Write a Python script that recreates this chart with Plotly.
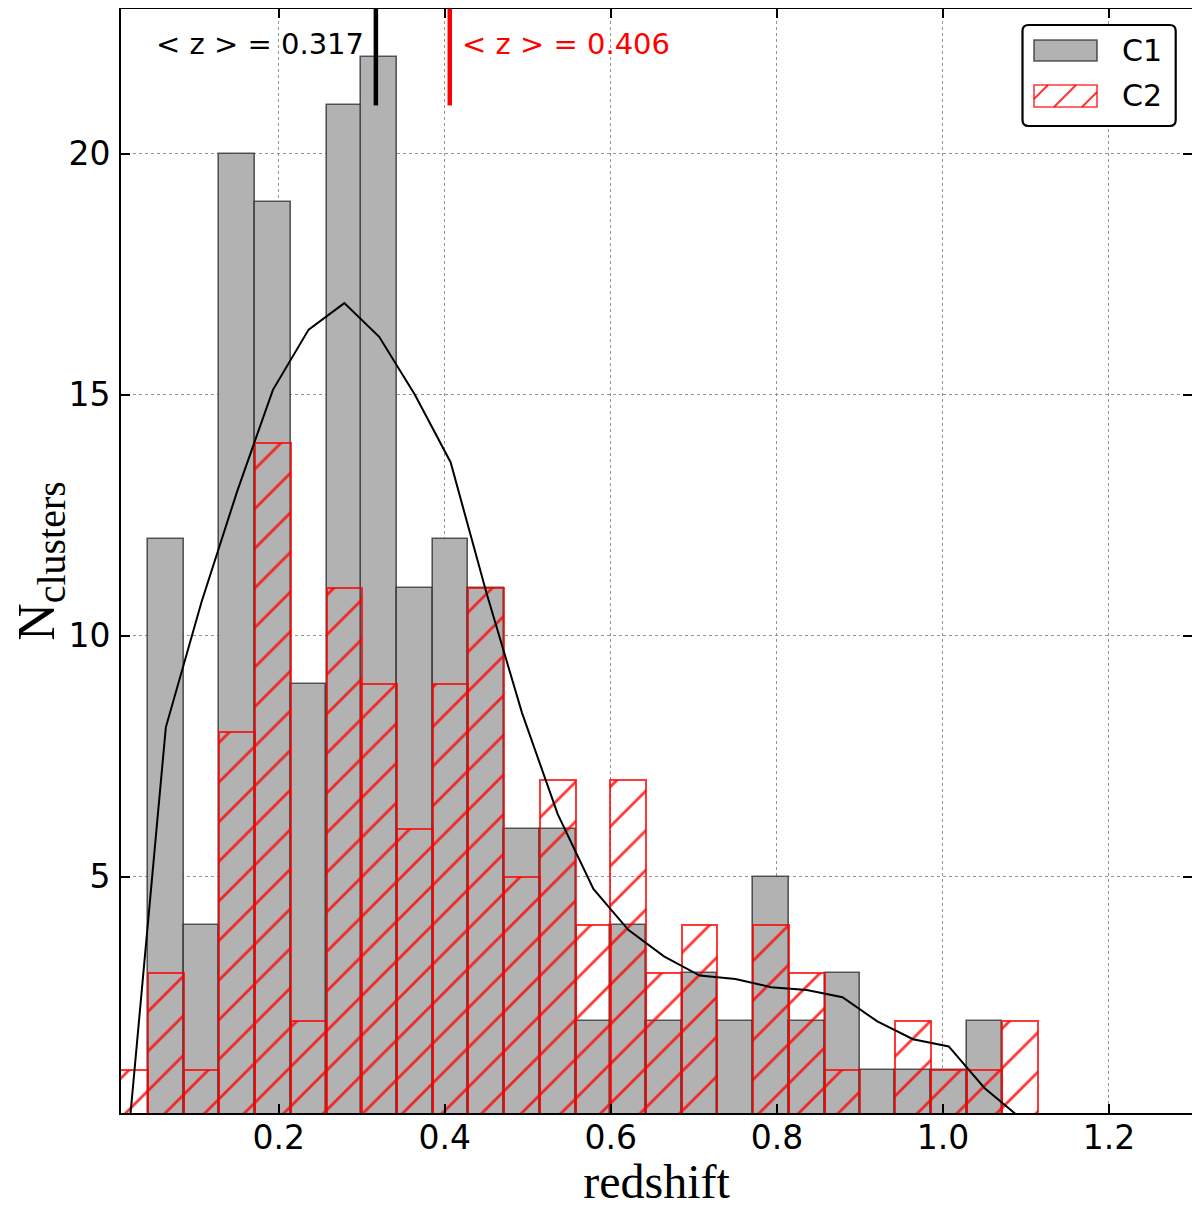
import plotly.graph_objects as go

# ---------------- data ----------------
z_centers = [0.021, 0.064, 0.107, 0.150, 0.193, 0.236, 0.279, 0.321, 0.364, 0.407,
             0.450, 0.493, 0.536, 0.579, 0.621, 0.664, 0.707, 0.750, 0.793, 0.836,
             0.879, 0.921, 0.964, 1.007, 1.050, 1.093]
bin_width = 0.0429
n_c1 = [0, 12, 4, 20, 19, 9, 21, 22, 11, 12, 11, 6, 6, 2, 4, 2, 3, 2, 5, 2, 3, 1, 1, 1, 2, 0]
n_c2 = [1, 3, 1, 8, 14, 2, 11, 9, 6, 9, 11, 5, 7, 4, 7, 3, 4, 0, 4, 3, 1, 0, 2, 1, 1, 2]
kde_c1 = [0.0, 8.1, 10.7, 13.0, 15.1, 16.35, 16.9, 16.2, 15.0, 13.6, 10.9, 8.4, 6.3,
          4.75, 3.9, 3.35, 2.95, 2.88, 2.71, 2.65, 2.5, 2.0, 1.63, 1.48, 0.62, 0.0]
series_names = ["C1", "C2"]
mean_z = [0.317, 0.406]
x_ticks = [0.2, 0.4, 0.6, 0.8, 1.0, 1.2]
y_ticks = [5, 10, 15, 20]

# ---------------- styling ----------------
GREY_FILL = "#b2b2b2"
GREY_EDGE = "rgba(40,40,40,0.75)"
RED = "rgba(255,0,0,0.78)"
OFF = 8  # page body margin
W, H = 1192, 1200
ML, MR, MT, MB = 113, 8, 1, 95
PW, PH = W - ML - MR, H - MT - MB


def px2paper(sx, sy):
    """screen px -> paper coords"""
    fx, fy = sx - OFF, sy - OFF
    return (fx - ML) / PW, (H - MB - fy) / PH


fig = go.Figure()

fig.add_trace(go.Bar(
    x=z_centers, y=n_c1, width=bin_width, name=series_names[0],
    marker=dict(color=GREY_FILL, line=dict(color=GREY_EDGE, width=1.6)),
    showlegend=False,
))
fig.add_trace(go.Bar(
    x=z_centers, y=n_c2, width=bin_width, name=series_names[1],
    marker=dict(color="rgba(0,0,0,0)", line=dict(color=RED, width=2),
                pattern=dict(shape="/", fgcolor=RED, bgcolor="rgba(0,0,0,0)",
                             size=28, solidity=0.1, fillmode="replace")),
    showlegend=False,
))
fig.add_trace(go.Scatter(
    x=z_centers, y=kde_c1, mode="lines", line=dict(color="black", width=2),
    showlegend=False, name="KDE C1",
))

# mean lines and labels
mean_colors = ["black", "red"]
for i, (m, c) in enumerate(zip(mean_z, mean_colors)):
    fig.add_shape(type="line", xref="x", yref="y", x0=m, x1=m, y0=21, y1=23,
                  line=dict(color=c, width=4.5))
    fig.add_annotation(x=m, y=22.28, xref="x", yref="y",
                       text=f"&lt; z &gt; = {m:.3f}", showarrow=False,
                       xanchor="right" if i == 0 else "left",
                       xshift=-10 if i == 0 else 10,
                       font=dict(family="DejaVu Sans", size=29, color=c))

# manual legend (rounded frame, swatches, labels)
fx0, fy0 = px2paper(1022.5, 126)
fx1, fy1 = px2paper(1175.7, 25)
rx, ry = 6 / PW, 6 / PH
path = (f"M {fx0+rx},{fy1} L {fx1-rx},{fy1} Q {fx1},{fy1} {fx1},{fy1-ry} "
        f"L {fx1},{fy0+ry} Q {fx1},{fy0} {fx1-rx},{fy0} L {fx0+rx},{fy0} "
        f"Q {fx0},{fy0} {fx0},{fy0+ry} L {fx0},{fy1-ry} Q {fx0},{fy1} {fx0+rx},{fy1} Z")
fig.add_shape(type="path", xref="paper", yref="paper", path=path,
              fillcolor="white", line=dict(color="black", width=2.2))
# C1 swatch
a = px2paper(1034, 61); b = px2paper(1097, 40)
fig.add_shape(type="rect", xref="paper", yref="paper", x0=a[0], y0=a[1], x1=b[0], y1=b[1],
              fillcolor=GREY_FILL, line=dict(color=GREY_EDGE, width=1.6))
# C2 swatch (hatched)
sx0, sx1, sy_top, sy_bot = 1034, 1097, 85, 107
a = px2paper(sx0, sy_bot); b = px2paper(sx1, sy_top)
fig.add_shape(type="rect", xref="paper", yref="paper", x0=a[0], y0=a[1], x1=b[0], y1=b[1],
              fillcolor="rgba(0,0,0,0)", line=dict(color=RED, width=1.6))
hh = sy_bot - sy_top
for off in [-8, 20, 48]:
    xa, ya = sx0 + off, sy_bot
    xb, yb = sx0 + off + hh, sy_top
    if xa < sx0:
        ya = sy_bot - (sx0 - xa); xa = sx0
    if xb > sx1:
        yb = sy_top + (xb - sx1); xb = sx1
    p = px2paper(xa, ya); q = px2paper(xb, yb)
    fig.add_shape(type="line", xref="paper", yref="paper", x0=p[0], y0=p[1], x1=q[0], y1=q[1],
                  line=dict(color=RED, width=2.2))
for name, cy in zip(series_names, [51, 96]):
    p = px2paper(1120, cy)
    fig.add_annotation(x=p[0], y=p[1], xref="paper", yref="paper", text=name,
                       showarrow=False, xanchor="left", yanchor="middle",
                       font=dict(family="DejaVu Sans", size=30, color="black"))

axis_common = dict(
    showline=True, linecolor="black", linewidth=2, mirror="ticks",
    ticks="inside", ticklen=9, tickwidth=1.5, tickcolor="black",
    showgrid=True, gridcolor="rgba(120,120,120,0.8)", griddash="dot", gridwidth=1.3,
    zeroline=False, automargin=False,
    tickfont=dict(family="DejaVu Sans", size=33, color="black"),
)
fig.update_xaxes(range=[0.01, 1.3], tickvals=x_ticks,
                 ticktext=[f"{v:.1f}" for v in x_ticks], ticklabelstandoff=-6,
                 title=dict(text="redshift", standoff=23,
                            font=dict(family="Liberation Serif", size=48, color="black")),
                 **axis_common)
fig.update_yaxes(range=[0.1, 23.0], tickvals=y_ticks, ticklabelstandoff=2,
                 title=dict(text="N<sub><span style=\"font-size:40px\">clusters</span></sub>",
                            standoff=30,
                            font=dict(family="Liberation Serif", size=52, color="black")),
                 **axis_common)

fig.update_layout(
    width=W, height=H, barmode="overlay", bargap=0,
    margin=dict(l=ML, r=MR, t=MT, b=MB, autoexpand=False),
    paper_bgcolor="white", plot_bgcolor="white",
)
fig.write_html("out.html")
